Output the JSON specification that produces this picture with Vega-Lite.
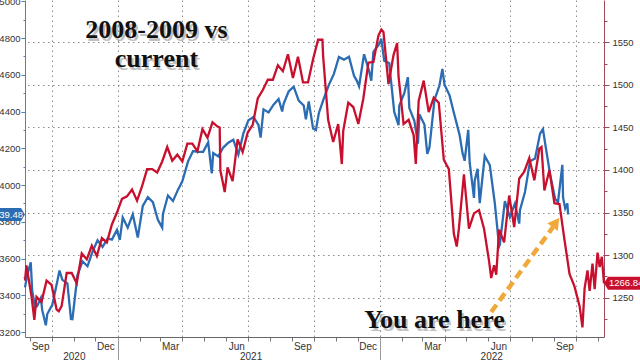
{
  "$schema": "https://vega.github.io/schema/vega-lite/v6.json",
  "width": 579,
  "height": 337,
  "autosize": {"type": "none"},
  "padding": {"left": 25, "top": 0, "right": 36, "bottom": 23},
  "background": "white",
  "config": {
    "view": {"stroke": null},
    "axis": {"labelFont": "Liberation Sans", "labelFontSize": 9.5, "labelColor": "#333333", "tickColor": "#777777", "domainColor": "#777777"}
  },
  "datasets": {
    "blue": [
      {"date": "2020-08-25", "v": 3443}, {"date": "2020-08-28", "v": 3508}, {"date": "2020-09-02", "v": 3580}, {"date": "2020-09-04", "v": 3427},
      {"date": "2020-09-08", "v": 3332}, {"date": "2020-09-11", "v": 3341}, {"date": "2020-09-16", "v": 3385}, {"date": "2020-09-18", "v": 3319},
      {"date": "2020-09-23", "v": 3237}, {"date": "2020-09-25", "v": 3298}, {"date": "2020-10-02", "v": 3348}, {"date": "2020-10-09", "v": 3477},
      {"date": "2020-10-12", "v": 3535}, {"date": "2020-10-16", "v": 3484}, {"date": "2020-10-23", "v": 3465}, {"date": "2020-10-28", "v": 3271},
      {"date": "2020-10-30", "v": 3270}, {"date": "2020-11-06", "v": 3509}, {"date": "2020-11-13", "v": 3585}, {"date": "2020-11-20", "v": 3558},
      {"date": "2020-11-27", "v": 3638}, {"date": "2020-12-04", "v": 3699}, {"date": "2020-12-11", "v": 3663}, {"date": "2020-12-18", "v": 3709},
      {"date": "2020-12-24", "v": 3703}, {"date": "2020-12-31", "v": 3756}, {"date": "2021-01-04", "v": 3701}, {"date": "2021-01-08", "v": 3824},
      {"date": "2021-01-15", "v": 3768}, {"date": "2021-01-22", "v": 3841}, {"date": "2021-01-29", "v": 3714}, {"date": "2021-02-05", "v": 3887},
      {"date": "2021-02-12", "v": 3934}, {"date": "2021-02-19", "v": 3907}, {"date": "2021-02-26", "v": 3811}, {"date": "2021-03-04", "v": 3768},
      {"date": "2021-03-05", "v": 3842}, {"date": "2021-03-12", "v": 3943}, {"date": "2021-03-19", "v": 3913}, {"date": "2021-03-26", "v": 3975},
      {"date": "2021-04-01", "v": 4020}, {"date": "2021-04-09", "v": 4129}, {"date": "2021-04-16", "v": 4185}, {"date": "2021-04-23", "v": 4180},
      {"date": "2021-04-30", "v": 4181}, {"date": "2021-05-07", "v": 4233}, {"date": "2021-05-12", "v": 4063}, {"date": "2021-05-14", "v": 4174},
      {"date": "2021-05-21", "v": 4156}, {"date": "2021-05-28", "v": 4204}, {"date": "2021-06-04", "v": 4230}, {"date": "2021-06-11", "v": 4247},
      {"date": "2021-06-18", "v": 4166}, {"date": "2021-06-25", "v": 4281}, {"date": "2021-07-02", "v": 4352}, {"date": "2021-07-09", "v": 4370},
      {"date": "2021-07-16", "v": 4327}, {"date": "2021-07-19", "v": 4258}, {"date": "2021-07-23", "v": 4412}, {"date": "2021-07-30", "v": 4395},
      {"date": "2021-08-06", "v": 4437}, {"date": "2021-08-13", "v": 4468}, {"date": "2021-08-18", "v": 4400}, {"date": "2021-08-20", "v": 4442},
      {"date": "2021-08-27", "v": 4509}, {"date": "2021-09-03", "v": 4535}, {"date": "2021-09-10", "v": 4459}, {"date": "2021-09-17", "v": 4433},
      {"date": "2021-09-20", "v": 4358}, {"date": "2021-09-24", "v": 4455}, {"date": "2021-09-30", "v": 4308}, {"date": "2021-10-04", "v": 4300},
      {"date": "2021-10-08", "v": 4391}, {"date": "2021-10-15", "v": 4471}, {"date": "2021-10-22", "v": 4545}, {"date": "2021-10-29", "v": 4605},
      {"date": "2021-11-05", "v": 4697}, {"date": "2021-11-12", "v": 4682}, {"date": "2021-11-19", "v": 4698}, {"date": "2021-11-26", "v": 4595},
      {"date": "2021-11-30", "v": 4567}, {"date": "2021-12-03", "v": 4538}, {"date": "2021-12-10", "v": 4712}, {"date": "2021-12-17", "v": 4621},
      {"date": "2021-12-20", "v": 4568}, {"date": "2021-12-23", "v": 4725}, {"date": "2021-12-31", "v": 4766}, {"date": "2022-01-03", "v": 4797},
      {"date": "2022-01-07", "v": 4677}, {"date": "2022-01-14", "v": 4663}, {"date": "2022-01-21", "v": 4398}, {"date": "2022-01-27", "v": 4326},
      {"date": "2022-01-28", "v": 4432}, {"date": "2022-02-04", "v": 4500}, {"date": "2022-02-09", "v": 4587}, {"date": "2022-02-11", "v": 4419},
      {"date": "2022-02-18", "v": 4349}, {"date": "2022-02-23", "v": 4225}, {"date": "2022-02-25", "v": 4385}, {"date": "2022-03-04", "v": 4329},
      {"date": "2022-03-08", "v": 4170}, {"date": "2022-03-11", "v": 4204}, {"date": "2022-03-18", "v": 4463}, {"date": "2022-03-25", "v": 4543},
      {"date": "2022-03-29", "v": 4632}, {"date": "2022-04-01", "v": 4546}, {"date": "2022-04-08", "v": 4488}, {"date": "2022-04-14", "v": 4393},
      {"date": "2022-04-22", "v": 4272}, {"date": "2022-04-26", "v": 4175}, {"date": "2022-04-29", "v": 4132}, {"date": "2022-05-04", "v": 4300},
      {"date": "2022-05-06", "v": 4123}, {"date": "2022-05-12", "v": 3930}, {"date": "2022-05-13", "v": 4024}, {"date": "2022-05-17", "v": 4088},
      {"date": "2022-05-20", "v": 3901}, {"date": "2022-05-27", "v": 4158}, {"date": "2022-06-03", "v": 4109}, {"date": "2022-06-10", "v": 3901},
      {"date": "2022-06-16", "v": 3666}, {"date": "2022-06-17", "v": 3675}, {"date": "2022-06-24", "v": 3912}, {"date": "2022-07-01", "v": 3825},
      {"date": "2022-07-08", "v": 3899}, {"date": "2022-07-14", "v": 3790}, {"date": "2022-07-15", "v": 3863}, {"date": "2022-07-22", "v": 3962},
      {"date": "2022-07-29", "v": 4130}, {"date": "2022-08-05", "v": 4145}, {"date": "2022-08-12", "v": 4280}, {"date": "2022-08-16", "v": 4305},
      {"date": "2022-08-19", "v": 4228}, {"date": "2022-08-26", "v": 4058}, {"date": "2022-09-02", "v": 3924}, {"date": "2022-09-06", "v": 3908},
      {"date": "2022-09-12", "v": 4110}, {"date": "2022-09-13", "v": 3933}, {"date": "2022-09-16", "v": 3873}, {"date": "2022-09-19", "v": 3900},
      {"date": "2022-09-20", "v": 3839.48}
    ],
    "red": [
      {"date": "2020-08-25", "v": 1270}, {"date": "2020-08-27", "v": 1288}, {"date": "2020-09-03", "v": 1252}, {"date": "2020-09-07", "v": 1224},
      {"date": "2020-09-10", "v": 1251}, {"date": "2020-09-17", "v": 1245}, {"date": "2020-09-24", "v": 1270}, {"date": "2020-10-01", "v": 1265},
      {"date": "2020-10-08", "v": 1236}, {"date": "2020-10-11", "v": 1234}, {"date": "2020-10-15", "v": 1240}, {"date": "2020-10-22", "v": 1279},
      {"date": "2020-10-29", "v": 1279}, {"date": "2020-11-05", "v": 1267}, {"date": "2020-11-12", "v": 1302}, {"date": "2020-11-19", "v": 1295},
      {"date": "2020-11-26", "v": 1311}, {"date": "2020-12-03", "v": 1299}, {"date": "2020-12-10", "v": 1320}, {"date": "2020-12-17", "v": 1315},
      {"date": "2020-12-24", "v": 1336}, {"date": "2020-12-31", "v": 1350}, {"date": "2021-01-07", "v": 1366}, {"date": "2021-01-14", "v": 1369},
      {"date": "2021-01-21", "v": 1377}, {"date": "2021-01-28", "v": 1364}, {"date": "2021-02-04", "v": 1381}, {"date": "2021-02-11", "v": 1401},
      {"date": "2021-02-18", "v": 1401}, {"date": "2021-02-25", "v": 1397}, {"date": "2021-03-04", "v": 1410}, {"date": "2021-03-11", "v": 1427},
      {"date": "2021-03-18", "v": 1411}, {"date": "2021-03-25", "v": 1418}, {"date": "2021-04-01", "v": 1410}, {"date": "2021-04-08", "v": 1431},
      {"date": "2021-04-15", "v": 1431}, {"date": "2021-04-22", "v": 1422}, {"date": "2021-04-29", "v": 1448}, {"date": "2021-05-06", "v": 1438},
      {"date": "2021-05-13", "v": 1456}, {"date": "2021-05-20", "v": 1451}, {"date": "2021-05-23", "v": 1450}, {"date": "2021-05-24", "v": 1399},
      {"date": "2021-05-27", "v": 1387}, {"date": "2021-05-30", "v": 1374}, {"date": "2021-06-03", "v": 1403}, {"date": "2021-06-10", "v": 1387},
      {"date": "2021-06-17", "v": 1436}, {"date": "2021-06-24", "v": 1421}, {"date": "2021-07-01", "v": 1444}, {"date": "2021-07-08", "v": 1453},
      {"date": "2021-07-15", "v": 1484}, {"date": "2021-07-22", "v": 1494}, {"date": "2021-07-29", "v": 1506}, {"date": "2021-08-05", "v": 1506},
      {"date": "2021-08-12", "v": 1523}, {"date": "2021-08-19", "v": 1516}, {"date": "2021-08-26", "v": 1536}, {"date": "2021-09-02", "v": 1508},
      {"date": "2021-09-09", "v": 1533}, {"date": "2021-09-16", "v": 1503}, {"date": "2021-09-23", "v": 1503}, {"date": "2021-09-30", "v": 1530},
      {"date": "2021-10-07", "v": 1553}, {"date": "2021-10-13", "v": 1553}, {"date": "2021-10-14", "v": 1534}, {"date": "2021-10-21", "v": 1459},
      {"date": "2021-10-28", "v": 1433}, {"date": "2021-11-04", "v": 1454}, {"date": "2021-11-09", "v": 1407}, {"date": "2021-11-11", "v": 1446},
      {"date": "2021-11-18", "v": 1479}, {"date": "2021-11-25", "v": 1474}, {"date": "2021-12-02", "v": 1454}, {"date": "2021-12-09", "v": 1484},
      {"date": "2021-12-16", "v": 1526}, {"date": "2021-12-23", "v": 1527}, {"date": "2021-12-30", "v": 1558}, {"date": "2022-01-03", "v": 1565},
      {"date": "2022-01-06", "v": 1562}, {"date": "2022-01-13", "v": 1501}, {"date": "2022-01-20", "v": 1535}, {"date": "2022-01-25", "v": 1549},
      {"date": "2022-01-27", "v": 1510}, {"date": "2022-02-03", "v": 1454}, {"date": "2022-02-10", "v": 1459}, {"date": "2022-02-17", "v": 1441},
      {"date": "2022-02-20", "v": 1407}, {"date": "2022-02-24", "v": 1481}, {"date": "2022-03-03", "v": 1505}, {"date": "2022-03-10", "v": 1468},
      {"date": "2022-03-17", "v": 1485}, {"date": "2022-03-24", "v": 1479}, {"date": "2022-03-31", "v": 1412}, {"date": "2022-04-07", "v": 1401},
      {"date": "2022-04-14", "v": 1325}, {"date": "2022-04-18", "v": 1310}, {"date": "2022-04-21", "v": 1331}, {"date": "2022-04-28", "v": 1395},
      {"date": "2022-05-05", "v": 1331}, {"date": "2022-05-12", "v": 1349}, {"date": "2022-05-19", "v": 1353}, {"date": "2022-05-26", "v": 1331},
      {"date": "2022-06-02", "v": 1293}, {"date": "2022-06-05", "v": 1273}, {"date": "2022-06-09", "v": 1288}, {"date": "2022-06-12", "v": 1277},
      {"date": "2022-06-16", "v": 1330}, {"date": "2022-06-23", "v": 1315}, {"date": "2022-06-30", "v": 1370}, {"date": "2022-07-07", "v": 1333},
      {"date": "2022-07-14", "v": 1390}, {"date": "2022-07-21", "v": 1398}, {"date": "2022-07-28", "v": 1414}, {"date": "2022-08-04", "v": 1388},
      {"date": "2022-08-11", "v": 1425}, {"date": "2022-08-14", "v": 1427}, {"date": "2022-08-18", "v": 1376}, {"date": "2022-08-25", "v": 1400},
      {"date": "2022-09-01", "v": 1361}, {"date": "2022-09-08", "v": 1360}, {"date": "2022-09-15", "v": 1318}, {"date": "2022-09-22", "v": 1278},
      {"date": "2022-09-29", "v": 1263}, {"date": "2022-10-06", "v": 1240}, {"date": "2022-10-10", "v": 1215}, {"date": "2022-10-13", "v": 1261},
      {"date": "2022-10-17", "v": 1282}, {"date": "2022-10-20", "v": 1258}, {"date": "2022-10-24", "v": 1290}, {"date": "2022-10-27", "v": 1260},
      {"date": "2022-10-31", "v": 1303}, {"date": "2022-11-03", "v": 1286}, {"date": "2022-11-06", "v": 1298}, {"date": "2022-11-09", "v": 1266.84}
    ],
    "titles": [
      {"date": "2021-02-24", "v": 4800, "t": "2008-2009 vs"},
      {"date": "2021-02-24", "v": 4642, "t": "current"}
    ],
    "here": [{"date": "2022-03-18", "v": 3222, "t": "You are here"}],
    "arrow": [{"date": "2022-06-05", "v": 3309, "date2": "2022-08-30", "v2": 3771}],
    "head": [{"date": "2022-09-03", "v": 3796}],
    "blueLast": [{"date": "2020-08-25", "v": 3839.48, "t": "3839.48"}],
    "redLast": [{"date": "2022-11-09", "v": 1266.84, "t": "1266.84"}]
  },
  "resolve": {"scale": {"y": "independent"}, "axis": {"x": "independent"}},
  "layer": [
    {
      "data": {"name": "arrow"},
      "mark": {"type": "rule", "color": "#F0A83A", "strokeWidth": 4.5, "strokeDash": [9, 5]},
      "encoding": {
        "x": {"field": "date", "type": "temporal", "scale": {"domain": [{"year": 2020, "month": 8, "date": 25}, {"year": 2022, "month": 11, "date": 9}]},
              "axis": {"orient": "bottom", "title": null, "tickCount": {"interval": "month", "step": 3}, "labels": false, "ticks": false, "domain": false, "grid": true, "gridDash": [1.5, 3.5], "gridColor": "#8c8c8c", "gridWidth": 1}},
        "x2": {"field": "date2"},
        "y": {"field": "v", "type": "quantitative", "scale": {"domain": [3173, 5007], "nice": false, "zero": false}, "axis": null},
        "y2": {"field": "v2"}
      }
    },
    {
      "data": {"name": "blue"},
      "mark": {"type": "line", "color": "#2B6CB3", "strokeWidth": 2.3},
      "encoding": {
        "x": {"field": "date", "type": "temporal", "scale": {"domain": [{"year": 2020, "month": 8, "date": 25}, {"year": 2022, "month": 11, "date": 9}]},
              "axis": {"orient": "bottom", "title": null, "tickCount": {"interval": "month", "step": 1}, "labels": false, "grid": false, "tickSize": 4, "domain": true, "domainColor": "#666666", "tickColor": "#777777"}},
        "y": {"field": "v", "type": "quantitative", "scale": {"domain": [3173, 5007], "nice": false, "zero": false},
              "axis": {"orient": "left", "title": null, "format": "d", "values": [3200, 3400, 3600, 3800, 4000, 4200, 4400, 4600, 4800, 5000], "grid": false, "tickSize": 4, "labelPadding": 1, "domainColor": "#5A7EA8", "tickColor": "#5A7EA8"}}
      }
    },
    {
      "data": {"name": "red"},
      "mark": {"type": "line", "color": "#C8102E", "strokeWidth": 2.3},
      "encoding": {
        "x": {"field": "date", "type": "temporal", "scale": {"domain": [{"year": 2020, "month": 8, "date": 25}, {"year": 2022, "month": 11, "date": 9}]},
              "axis": {"orient": "bottom", "title": null, "values": [{"year": 2020, "month": 9, "date": 15}, {"year": 2020, "month": 12, "date": 15}, {"year": 2021, "month": 3, "date": 15}, {"year": 2021, "month": 6, "date": 15}, {"year": 2021, "month": 9, "date": 15}, {"year": 2021, "month": 12, "date": 15}, {"year": 2022, "month": 3, "date": 15}, {"year": 2022, "month": 6, "date": 15}, {"year": 2022, "month": 9, "date": 15}],
                       "format": "%b", "ticks": false, "domain": false, "grid": false, "labelPadding": 4, "labelFontSize": 10, "labelFlush": false, "labelOverlap": false}},
        "y": {"field": "v", "type": "quantitative", "scale": {"domain": [1203.8, 1599.7], "nice": false, "zero": false},
              "axis": {"orient": "right", "title": null, "format": "d", "values": [1250, 1300, 1350, 1400, 1450, 1500, 1550], "grid": true, "gridDash": [1.5, 3.5], "gridColor": "#8c8c8c", "gridWidth": 1, "tickSize": 5, "labelPadding": 3, "domainColor": "#A0485C", "tickColor": "#A0485C"}}
      }
    },
    {
      "data": {"name": "titles"},
      "mark": {"type": "text", "font": "Liberation Serif", "fontWeight": "bold", "fontSize": 26, "align": "center", "baseline": "alphabetic", "color": "#777777", "opacity": 0.45, "dx": 2, "dy": 3},
      "encoding": {
        "x": {"field": "date", "type": "temporal", "scale": {"domain": [{"year": 2020, "month": 8, "date": 25}, {"year": 2022, "month": 11, "date": 9}]}, "axis": null},
        "y": {"field": "v", "type": "quantitative", "scale": {"domain": [3173, 5007], "nice": false, "zero": false}, "axis": null},
        "text": {"field": "t"}
      }
    },
    {
      "data": {"name": "titles"},
      "mark": {"type": "text", "font": "Liberation Serif", "fontWeight": "bold", "fontSize": 26, "align": "center", "baseline": "alphabetic", "color": "#111111"},
      "encoding": {
        "x": {"field": "date", "type": "temporal", "scale": {"domain": [{"year": 2020, "month": 8, "date": 25}, {"year": 2022, "month": 11, "date": 9}]},
              "axis": {"orient": "bottom", "title": null, "values": [{"year": 2020, "month": 11, "date": 1}, {"year": 2021, "month": 7, "date": 5}, {"year": 2022, "month": 6, "date": 5}], "format": "%Y", "ticks": false, "domain": false, "grid": false, "labelPadding": 14, "labelFontSize": 10, "labelFlush": false, "labelOverlap": false}},
        "y": {"field": "v", "type": "quantitative", "scale": {"domain": [3173, 5007], "nice": false, "zero": false}, "axis": null},
        "text": {"field": "t"}
      }
    },
    {
      "data": {"name": "here"},
      "mark": {"type": "text", "font": "Liberation Serif", "fontWeight": "bold", "fontSize": 26, "align": "center", "baseline": "alphabetic", "color": "#777777", "opacity": 0.45, "dx": 2, "dy": 3},
      "encoding": {
        "x": {"field": "date", "type": "temporal", "scale": {"domain": [{"year": 2020, "month": 8, "date": 25}, {"year": 2022, "month": 11, "date": 9}]},
              "axis": {"orient": "bottom", "title": null, "tickCount": {"interval": "year", "step": 1}, "labels": false, "tickSize": 23, "domain": false, "grid": false, "tickColor": "#999999"}},
        "y": {"field": "v", "type": "quantitative", "scale": {"domain": [3173, 5007], "nice": false, "zero": false}, "axis": null},
        "text": {"field": "t"}
      }
    },
    {
      "data": {"name": "here"},
      "mark": {"type": "text", "font": "Liberation Serif", "fontWeight": "bold", "fontSize": 26, "align": "center", "baseline": "alphabetic", "color": "#111111"},
      "encoding": {
        "x": {"field": "date", "type": "temporal", "scale": {"domain": [{"year": 2020, "month": 8, "date": 25}, {"year": 2022, "month": 11, "date": 9}]}, "axis": null},
        "y": {"field": "v", "type": "quantitative", "scale": {"domain": [3173, 5007], "nice": false, "zero": false}, "axis": null},
        "text": {"field": "t"}
      }
    },
    {
      "data": {"name": "head"},
      "mark": {"type": "point", "shape": "triangle-up", "angle": 36, "size": 170, "filled": true, "opacity": 1, "color": "#F0A83A"},
      "encoding": {
        "x": {"field": "date", "type": "temporal", "scale": {"domain": [{"year": 2020, "month": 8, "date": 25}, {"year": 2022, "month": 11, "date": 9}]}, "axis": null},
        "y": {"field": "v", "type": "quantitative", "scale": {"domain": [3173, 5007], "nice": false, "zero": false}, "axis": null}
      }
    },
    {
      "data": {"name": "blueLast"},
      "mark": {"type": "point", "shape": "M-0.9,-0.13 L-0.08,-0.13 L0,0 L-0.08,0.13 L-0.9,0.13 Z", "size": 10000, "filled": true, "opacity": 1, "color": "#2B6CB3"},
      "encoding": {
        "x": {"field": "date", "type": "temporal", "scale": {"domain": [{"year": 2020, "month": 8, "date": 25}, {"year": 2022, "month": 11, "date": 9}]}, "axis": null},
        "y": {"field": "v", "type": "quantitative", "scale": {"domain": [3173, 5007], "nice": false, "zero": false},
              "axis": {"orient": "left", "title": null, "values": [3300, 3500, 3700, 3900, 4100, 4300, 4500, 4700, 4900], "labels": false, "tickSize": 2, "domain": false, "grid": false, "tickColor": "#5A7EA8"}}
      }
    },
    {
      "data": {"name": "blueLast"},
      "mark": {"type": "text", "font": "Liberation Sans", "fontSize": 9.5, "align": "right", "baseline": "middle", "dx": -2, "color": "white"},
      "encoding": {
        "x": {"field": "date", "type": "temporal", "scale": {"domain": [{"year": 2020, "month": 8, "date": 25}, {"year": 2022, "month": 11, "date": 9}]}, "axis": null},
        "y": {"field": "v", "type": "quantitative", "scale": {"domain": [3173, 5007], "nice": false, "zero": false}, "axis": null},
        "text": {"field": "t"}
      }
    },
    {
      "data": {"name": "redLast"},
      "mark": {"type": "point", "shape": "M0,0 L0.08,-0.13 L0.9,-0.13 L0.9,0.13 L0.08,0.13 Z", "size": 10000, "filled": true, "opacity": 1, "color": "#C8102E"},
      "encoding": {
        "x": {"field": "date", "type": "temporal", "scale": {"domain": [{"year": 2020, "month": 8, "date": 25}, {"year": 2022, "month": 11, "date": 9}]}, "axis": null},
        "y": {"field": "v", "type": "quantitative", "scale": {"domain": [1203.8, 1599.7], "nice": false, "zero": false},
              "axis": {"orient": "right", "title": null, "values": [1225, 1275, 1325, 1375, 1425, 1475, 1525, 1575], "labels": false, "tickSize": 3, "domain": false, "grid": false, "tickColor": "#A0485C"}}
      }
    },
    {
      "data": {"name": "redLast"},
      "mark": {"type": "text", "font": "Liberation Sans", "fontSize": 9.5, "align": "left", "baseline": "middle", "dx": 5, "color": "white"},
      "encoding": {
        "x": {"field": "date", "type": "temporal", "scale": {"domain": [{"year": 2020, "month": 8, "date": 25}, {"year": 2022, "month": 11, "date": 9}]}, "axis": null},
        "y": {"field": "v", "type": "quantitative", "scale": {"domain": [1203.8, 1599.7], "nice": false, "zero": false}, "axis": null},
        "text": {"field": "t"}
      }
    }
  ]
}
